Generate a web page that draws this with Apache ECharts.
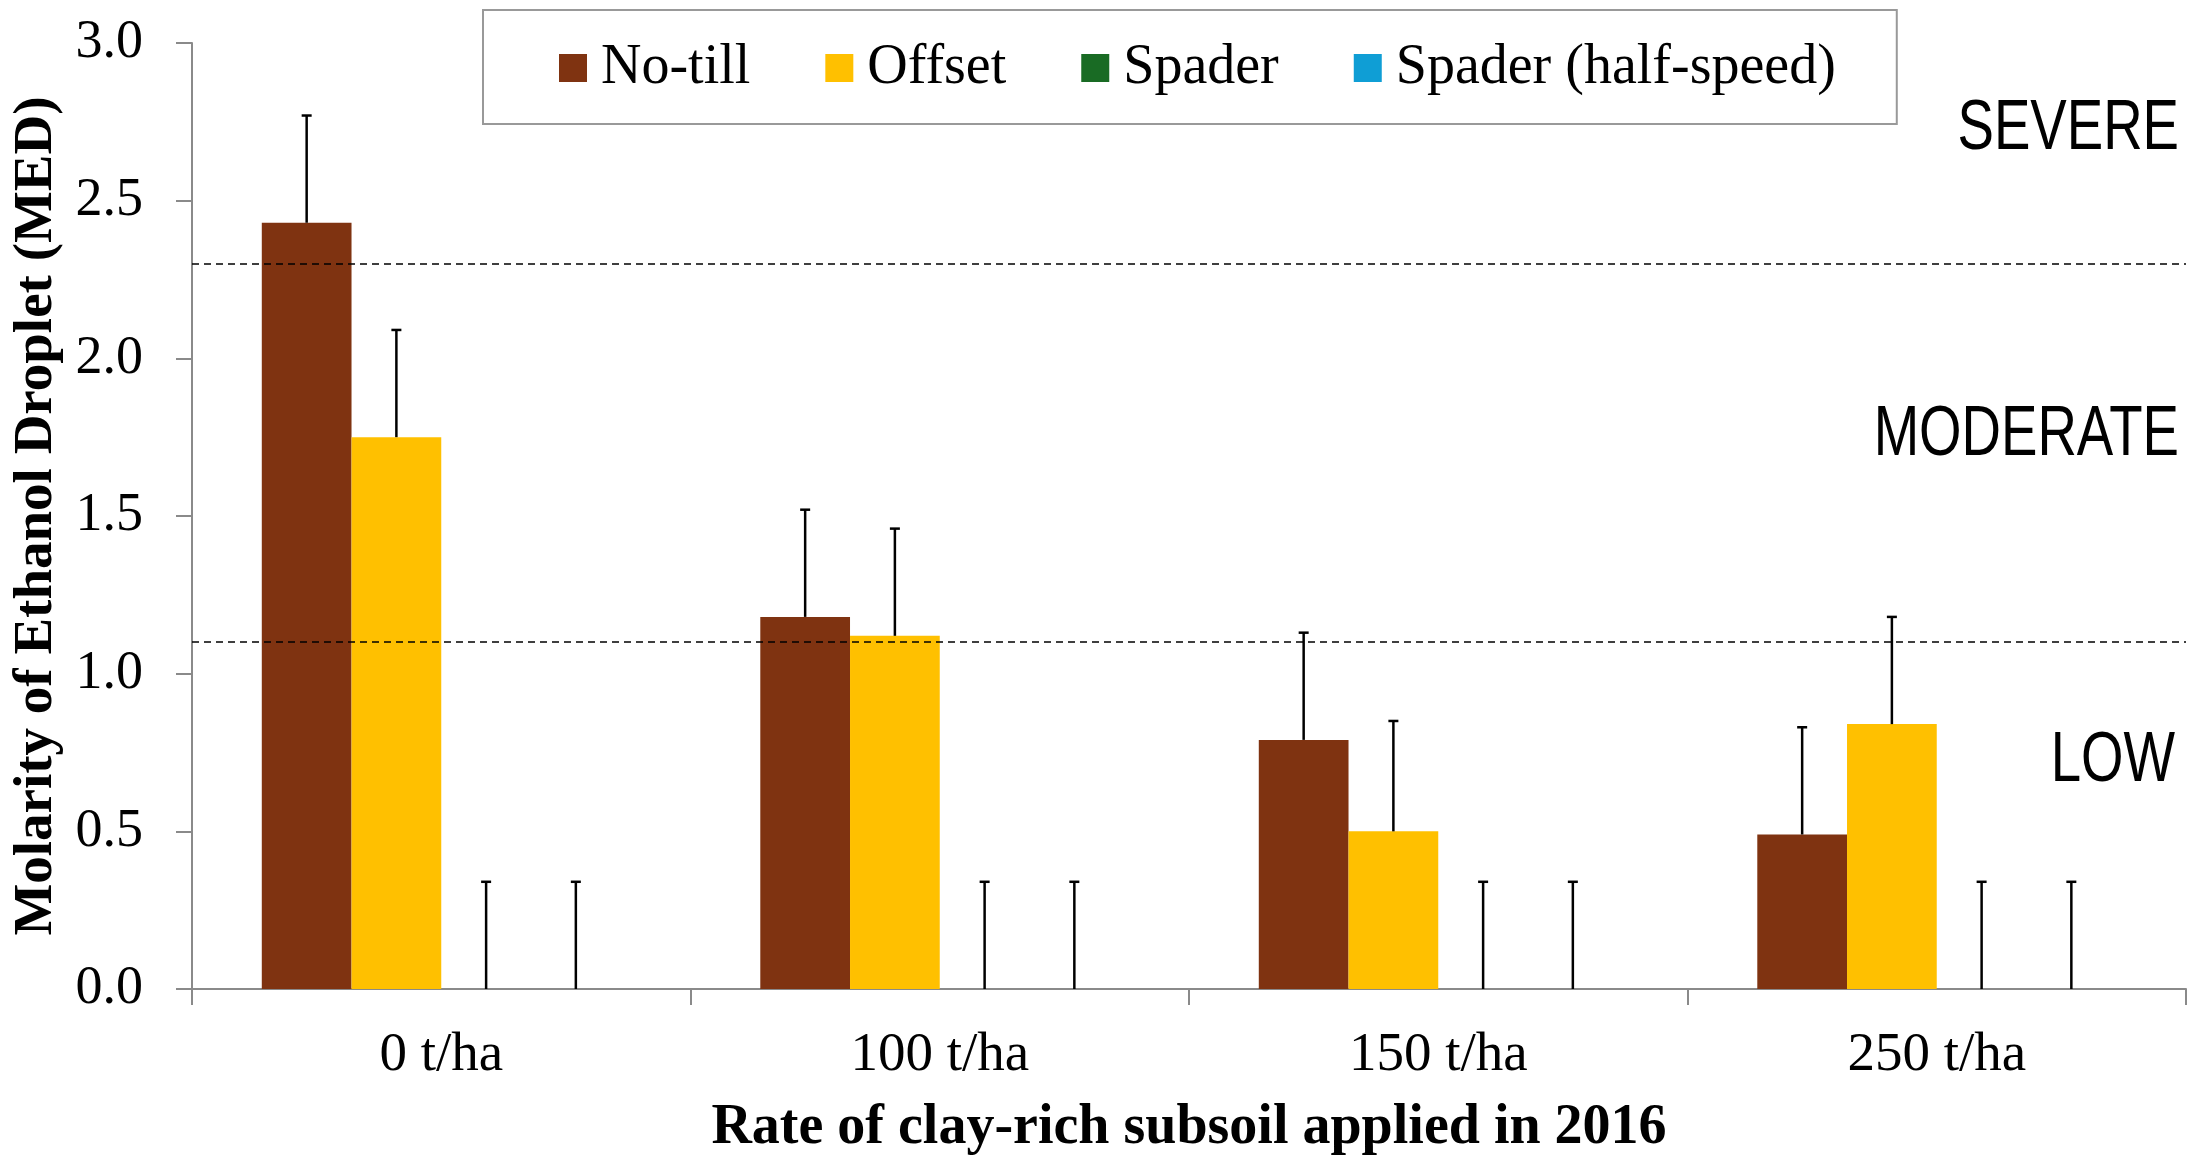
<!DOCTYPE html>
<html>
<head>
<meta charset="utf-8">
<script src="https://cdn.jsdelivr.net/npm/echarts@6/dist/echarts.min.js"></script>
<style>
  html, body { margin: 0; padding: 0; background: #fff; }
  #chart { width: 2197px; height: 1158px; }
</style>
</head>
<body>
<div id="chart"></div>
<script>
// values
const categories = ['0 t/ha', '100 t/ha', '150 t/ha', '250 t/ha'];
const seriesNames = ['No-till', 'Offset', 'Spader', 'Spader (half-speed)'];
const noTill = [2.43, 1.18, 0.79, 0.49];
const offset = [1.75, 1.12, 0.50, 0.84];
const spader = [0, 0, 0, 0];
const halfSpeed = [0, 0, 0, 0];
const noTillErr = [0.34, 0.34, 0.34, 0.34];
const offsetErr = [0.34, 0.34, 0.35, 0.34];
const spaderErr = [0.34, 0.34, 0.34, 0.34];
const halfSpeedErr = [0.34, 0.34, 0.34, 0.34];
const thresholds = [2.3, 1.1];
const zoneLabels = ['SEVERE', 'MODERATE', 'LOW'];

const colors = ['#7F3311', '#FFC000', '#196B24', '#0F9ED5'];
const serif = 'Liberation Serif';
const sans = 'Liberation Sans';
const catGap = 0.28;

const means = [noTill, offset, spader, halfSpeed];
const errs = [noTillErr, offsetErr, spaderErr, halfSpeedErr];
const errData = [];
means.forEach((arr, s) => {
  arr.forEach((v, c) => errData.push([c, s, v, v + errs[s][c]]));
});

const chart = echarts.init(document.getElementById('chart'));

const barSeries = seriesNames.map((name, i) => ({
  name: name,
  type: 'bar',
  data: means[i],
  barGap: '0%',
  barCategoryGap: (catGap * 100) + '%',
  itemStyle: { color: colors[i] },
  silent: true
}));

// dashed threshold lines on the last bar series so they sit above the bars
barSeries[3].markLine = {
  silent: true,
  symbol: 'none',
  label: { show: false },
  lineStyle: { color: '#000', type: [7, 5], width: 1.6 },
  data: thresholds.map(t => ({ yAxis: t }))
};

const zoneText = (text, x, y) => ({
  type: 'text', x: x, y: y, scaleX: 0.78, silent: true,
  style: { text: text, fontFamily: sans, fontSize: 70, fill: '#000', align: 'right', verticalAlign: 'middle' }
});

const option = {
  animation: false,
  backgroundColor: '#fff',
  textStyle: { fontFamily: serif },
  grid: { left: 192, right: 11, top: 43, bottom: 169, containLabel: false, outerBoundsMode: 'none' },
  legend: {
    left: 483,
    top: 10,
    padding: [30, 61, 28, 76],
    borderColor: '#999',
    borderWidth: 2,
    itemWidth: 28,
    itemHeight: 28,
    itemGap: 75,
    icon: 'rect',
    data: seriesNames,
    textStyle: { fontFamily: serif, fontSize: 56, color: '#000', padding: [0, 0, 0, 9] }
  },
  xAxis: {
    type: 'category',
    data: categories,
    axisLine: { lineStyle: { color: '#8a8a8a', width: 2 } },
    axisTick: { show: true, length: 16, lineStyle: { color: '#8a8a8a', width: 2 } },
    axisLabel: { fontFamily: serif, fontSize: 55, color: '#000', margin: 39 },
    name: 'Rate of clay-rich subsoil applied in 2016',
    nameLocation: 'middle',
    nameGap: 112,
    nameTextStyle: { fontFamily: serif, fontSize: 56, fontWeight: 'bold', color: '#000' }
  },
  yAxis: {
    type: 'value',
    min: 0,
    max: 3,
    interval: 0.5,
    splitLine: { show: false },
    axisLine: { show: true, lineStyle: { color: '#8a8a8a', width: 2 } },
    axisTick: { show: true, length: 16, lineStyle: { color: '#8a8a8a', width: 2 } },
    axisLabel: {
      fontFamily: serif, fontSize: 54, color: '#000', margin: 49,
      formatter: v => v.toFixed(1)
    },
    name: 'Molarity of Ethanol Droplet (MED)',
    nameLocation: 'middle',
    nameGap: 121,
    nameTextStyle: { fontFamily: serif, fontSize: 55, fontWeight: 'bold', color: '#000' }
  },
  graphic: [
    zoneText(zoneLabels[0], 2179, 130),
    zoneText(zoneLabels[1], 2179, 436),
    zoneText(zoneLabels[2], 2175, 762)
  ],
  series: barSeries.concat([{
    type: 'custom',
    name: 'err',
    silent: true,
    z: 5,
    data: errData,
    encode: { x: 0, y: 3 },
    renderItem: (params, api) => {
      const c = api.value(0);
      const s = api.value(1);
      const base = api.coord([c, api.value(2)]);
      const top = api.coord([c, api.value(3)]);
      const band = api.size([1, 0])[0];
      const bw = band * (1 - catGap) / 4;
      const x = base[0] + (s - 1.5) * bw;
      const style = { stroke: '#000', lineWidth: 2.5 };
      return {
        type: 'group',
        children: [
          { type: 'line', shape: { x1: x, y1: base[1], x2: x, y2: top[1] }, style: style },
          { type: 'line', shape: { x1: x - 5, y1: top[1], x2: x + 5, y2: top[1] }, style: style }
        ]
      };
    }
  }])
};

chart.setOption(option);
</script>
</body>
</html>
